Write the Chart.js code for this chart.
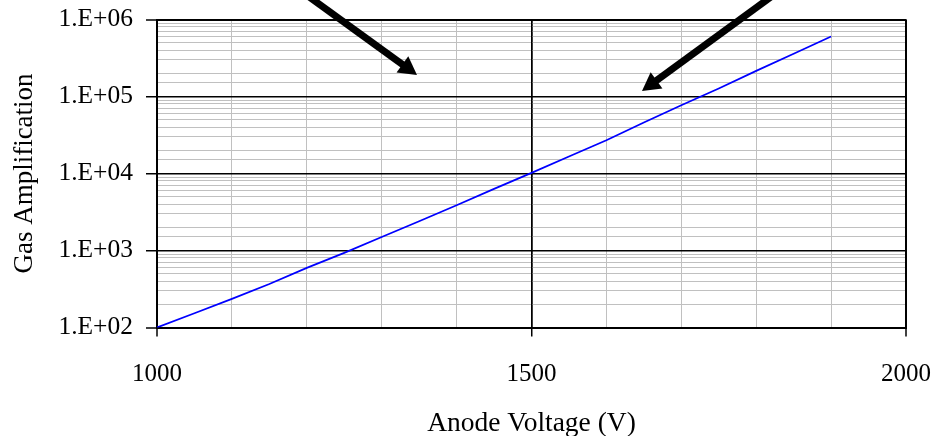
<!DOCTYPE html>
<html>
<head>
<meta charset="utf-8">
<title>Gas Amplification</title>
<script src="https://cdn.jsdelivr.net/npm/chart.js@4.4.1/dist/chart.umd.min.js"></script>
<style>
  html, body { margin: 0; padding: 0; background: #ffffff; }
  #wrap { width: 932px; height: 436px; }
</style>
</head>
<body>
<div id="wrap"><canvas id="gainChart" width="932" height="436"></canvas></div>
<script>
// Anode voltage (V) and the gas amplification
const voltages = [1000, 1050, 1100, 1150, 1200, 1250, 1300, 1350, 1400, 1450,
                  1500, 1550, 1600, 1650, 1700, 1750, 1800, 1850, 1900];
const gain = [100, 153, 235, 367, 594, 933, 1500, 2400, 3870, 6310,
              10200, 16600, 27000, 45900, 77100, 127000, 215000, 359000, 601000];

// tick labels
const xTickValues = [1000, 1500, 2000];
const xTickLabels = ['1000', '1500', '2000'];
const yTickValues = [1e2, 1e3, 1e4, 1e5, 1e6];
const yTickLabels = ['1.E+02', '1.E+03', '1.E+04', '1.E+05', '1.E+06'];

const serif = 'Liberation Serif, Times New Roman, serif';

function isMajorY(v) {
    return yTickValues.some(function(m) { return Math.abs(v - m) < 1e-6 * m; });
}
function isMajorX(v) {
    return xTickValues.indexOf(v) !== -1;
}

// the two black arrows at the top of the plot
const arrowPlugin = {
    id: 'arrows',
    afterDraw: function(chart) {
        const ctx = chart.ctx;
        function arrow(x0, y0, x1, y1) {
            const ang = Math.atan2(y1 - y0, x1 - x0);
            const headLen = 18, headHalf = 10, shaft = 7;
            const bx = x1 - headLen * Math.cos(ang);
            const by = y1 - headLen * Math.sin(ang);
            ctx.save();
            ctx.strokeStyle = '#000';
            ctx.fillStyle = '#000';
            ctx.lineWidth = shaft;
            ctx.beginPath();
            ctx.moveTo(x0, y0);
            ctx.lineTo(bx + 2 * Math.cos(ang), by + 2 * Math.sin(ang));
            ctx.stroke();
            ctx.beginPath();
            ctx.moveTo(x1, y1);
            ctx.lineTo(bx + headHalf * Math.sin(ang), by - headHalf * Math.cos(ang));
            ctx.lineTo(bx - headHalf * Math.sin(ang), by + headHalf * Math.cos(ang));
            ctx.closePath();
            ctx.fill();
            ctx.restore();
        }
        arrow(290, -17, 417, 75);
        arrow(790, -17, 642, 91);
    }
};

document.addEventListener('DOMContentLoaded', function() {
    const ctx = document.getElementById('gainChart').getContext('2d');

    new Chart(ctx, {
        type: 'line',
        data: {
            datasets: [{
                label: 'Gas Amplification',
                data: voltages.map(function(v, i) { return { x: v, y: gain[i] }; }),
                borderColor: '#0000ff',
                borderWidth: 1.75,
                pointRadius: 0,
                tension: 0,
                fill: false
            }]
        },
        options: {
            responsive: false,
            animation: false,
            layout: { padding: { left: 0, top: 19.5, right: 26, bottom: 0 } },
            plugins: {
                legend: { display: false },
                tooltip: { enabled: false }
            },
            scales: {
                x: {
                    type: 'linear',
                    min: 1000,
                    max: 2000,
                    // fixed height, and no extra room for the end labels
                    afterFit: function(scale) {
                        scale.height = 108.5;
                        scale.paddingLeft = 0;
                        scale.paddingRight = 0;
                    },
                    ticks: {
                        stepSize: 100,
                        autoSkip: false,
                        maxRotation: 0,
                        padding: 23,
                        color: '#000',
                        font: { family: serif, size: 25 },
                        callback: function(value) {
                            const i = xTickValues.indexOf(value);
                            return i === -1 ? '' : xTickLabels[i];
                        }
                    },
                    grid: {
                        tickLength: 9,
                        color: function(c) { return isMajorX(c.tick.value) ? '#000' : '#c0c0c0'; },
                        lineWidth: function(c) {
                            const v = c.tick.value;
                            if (v === 1000 || v === 2000) return 2;
                            return isMajorX(v) ? 1.5 : 1;
                        },
                        tickColor: function(c) { return isMajorX(c.tick.value) ? '#000' : 'rgba(0,0,0,0)'; },
                        tickWidth: 1.5
                    },
                    border: { color: '#000', width: 2 },
                    title: {
                        display: true,
                        text: 'Anode Voltage (V)',
                        color: '#000',
                        font: { family: serif, size: 27.5, lineHeight: 1 },
                        padding: { top: 0, bottom: -2 }
                    }
                },
                y: {
                    type: 'logarithmic',
                    min: 100,
                    max: 1000000,
                    afterFit: function(scale) {
                        scale.width = 157;
                        scale.paddingTop = 0;
                        scale.paddingBottom = 0;
                    },
                    ticks: {
                        autoSkip: false,
                        padding: 13,
                        color: '#000',
                        font: { family: serif, size: 25.5 },
                        callback: function(value) {
                            for (let i = 0; i < yTickValues.length; i++) {
                                if (Math.abs(value - yTickValues[i]) < 1e-6 * yTickValues[i]) return yTickLabels[i];
                            }
                            return '';
                        }
                    },
                    grid: {
                        tickLength: 11,
                        color: function(c) { return isMajorY(c.tick.value) ? '#000' : '#c0c0c0'; },
                        lineWidth: function(c) {
                            const v = c.tick.value;
                            if (v === 100 || v === 1000000) return 2;
                            return isMajorY(v) ? 1.5 : 1;
                        },
                        tickColor: function(c) { return isMajorY(c.tick.value) ? '#000' : 'rgba(0,0,0,0)'; },
                        tickWidth: 1.5
                    },
                    border: { color: '#000', width: 2 },
                    title: {
                        display: true,
                        text: 'Gas Amplification',
                        color: '#000',
                        font: { family: serif, size: 27, lineHeight: 1 },
                        padding: { top: 11, bottom: 0 }
                    }
                },
                // second x scale only to put the black vertical lines on top of the grey ones
                xMajor: {
                    type: 'linear',
                    position: 'bottom',
                    min: 1000,
                    max: 2000,
                    afterFit: function(scale) {
                        scale.height = 0;
                        scale.paddingLeft = 0;
                        scale.paddingRight = 0;
                    },
                    ticks: { stepSize: 500, display: false },
                    grid: { color: '#000', lineWidth: 1.5, drawTicks: false },
                    border: { display: false }
                }
            }
        },
        plugins: [arrowPlugin]
    });
});
</script>
</body>
</html>
